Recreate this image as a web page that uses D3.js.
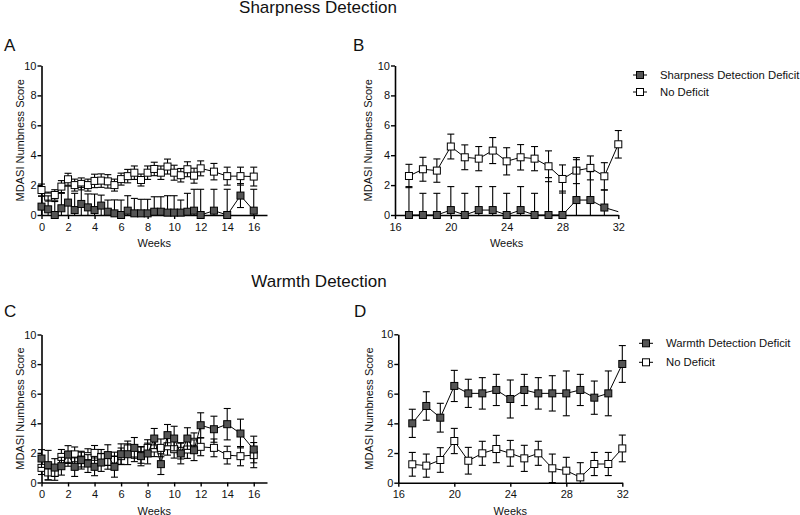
<!DOCTYPE html>
<html>
<head>
<meta charset="utf-8">
<script src="https://cdn.jsdelivr.net/npm/d3@7"></script>
<style>
  html, body { margin: 0; padding: 0; background: #fff; }
  svg { display: block; }
  text { font-family: "Liberation Sans", Arial, sans-serif; fill: #111; }
</style>
</head>
<body>
<svg id="chart" width="800" height="515"></svg>
<script>
// ---------------- DATA ----------------
const weeksEarly = [0,0.5,1,1.5,2,2.5,3,3.5,4,4.5,5,5.5,6,6.5,7,7.5,8,8.5,9,9.5,10,10.5,11,11.5,12,13,14,15,16];
const weeksLate  = [17,18,19,20,21,22,23,24,25,26,27,28,29,30,31,32];
const ticksEarly = [0,2,4,6,8,10,12,14,16];
const ticksLate  = [16,20,24,28,32];
const ticksY     = [0,2,4,6,8,10];

// Panel A: Sharpness Detection, weeks 0-16
const sharpDefA    = [0.56,0.38,0,0.45,0.83,0.33,0.74,0.51,0.33,0.63,0.22,0.11,0,0.29,0.11,0.11,0.11,0.22,0.22,0.16,0.16,0.16,0.22,0.29,0,0.29,0,1.3,0.29];
const sharpDefAErr = [0.7,0.9,0.9,1.0,1.1,1.12,1.2,0.9,1.07,0.7,0.78,0.9,1.0,1.0,1.0,0.94,0.94,1.0,1.0,1.13,1.13,0.84,1.23,1.43,1.72,1.43,1.72,0.8,1.43];
const sharpNoA     = [1.67,1.23,1.34,1.9,2.39,2.0,2.08,2.0,2.28,2.3,2.25,2.0,2.4,2.6,2.83,2.34,2.83,3.08,2.83,3.24,2.83,2.66,3.06,2.63,3.12,2.9,2.6,2.6,2.57];
const sharpNoAErr  = [0.4,0.3,0.35,0.4,0.4,0.4,0.4,0.4,0.45,0.45,0.45,0.4,0.4,0.45,0.45,0.4,0.45,0.45,0.45,0.5,0.5,0.45,0.5,0.5,0.5,0.55,0.6,0.6,0.63];

// Panel B: Sharpness Detection, weeks 17-32
const sharpDefB    = [0,0,0,0.33,0,0.33,0.33,0,0.33,0,0,0,1.0,1.0,0.5,0.22];
const sharpDefBErr = [1.9,1.45,1.45,1.57,1.45,1.57,1.57,1.45,1.57,1.45,2.5,1.6,2.7,1.9,1.17,null];
const sharpDefBNoMarker = [32];
const sharpNoB     = [2.61,3.06,2.97,4.58,3.86,3.77,4.31,3.59,3.86,3.77,3.26,2.41,2.97,3.15,2.59,4.73];
const sharpNoBErr  = [0.78,0.8,0.78,0.83,0.83,0.81,0.87,0.91,0.85,0.81,1.03,0.94,0.87,0.8,0.91,0.92];

// Panel C: Warmth Detection, weeks 0-16
const warmDefC     = [1.62,1.17,1.01,1.1,1.89,1.06,1.51,1.28,1.06,1.35,1.85,1.06,1.91,1.91,2.34,1.78,1.96,2.97,1.24,3.2,2.97,1.96,2.97,2.18,3.87,3.6,3.94,3.31,2.23];
const warmDefCErr  = [0.6,1.0,0.6,0.6,0.6,0.65,0.6,0.6,0.6,0.6,0.7,0.7,0.7,0.7,0.7,0.65,0.7,0.68,0.7,0.72,0.83,0.7,0.73,0.7,0.84,0.88,1.06,0.97,0.9];
const warmNoC      = [0.99,0.68,0.65,1.73,1.6,1.9,1.55,1.78,2.0,1.73,1.4,1.55,1.78,2.3,1.96,1.85,2.34,2.3,2.34,2.45,2.25,2.14,2.23,2.75,2.41,2.34,1.85,1.78,1.85];
const warmNoCErr   = [0.45,0.5,0.5,0.5,0.5,0.5,0.5,0.5,0.5,0.5,0.5,0.5,0.55,0.5,0.55,0.55,0.55,0.55,0.6,0.6,0.6,0.55,0.6,0.6,0.6,0.6,0.6,0.65,0.85];

// Panel D: Warmth Detection, weeks 17-32
const warmDefD     = [4.0,5.17,4.38,6.52,6.02,6.02,6.25,5.64,6.25,6.02,6.02,6.02,6.25,5.73,6.02,8.0];
const warmDefDErr  = [0.95,0.96,0.97,1.05,0.95,1.06,1.05,1.28,1.05,1.06,1.19,1.51,1.05,1.12,1.51,1.24];
const warmNoD      = [1.24,1.15,1.53,2.81,1.48,1.98,2.27,1.98,1.64,1.98,0.97,0.81,0.36,1.26,1.26,2.31];
const warmNoDErr   = [0.8,0.78,0.83,0.85,0.9,0.81,0.92,0.87,0.88,0.81,0.96,0.9,0.99,0.78,0.78,0.9];

const yLabel = "MDASI Numbness Score";
const xLabel = "Weeks";
const noDeficitLabel = "No Deficit";

// ---------------- DRAWING ----------------
const svg = d3.select("#chart");
const FILL = "#555555";
const MS = 7; // marker size

function drawPanel(cfg) {
  const x = d3.scaleLinear().domain(cfg.xDomain).range(cfg.xRange);
  const y = d3.scaleLinear().domain([0, 10]).range(cfg.yRange);
  const g = svg.append("g");

  // axes
  const xa = g.append("g").attr("transform", `translate(0,${cfg.yRange[0]})`)
    .call(d3.axisBottom(x).tickValues(cfg.xTicks).tickSize(4).tickSizeOuter(0).tickPadding(4));
  const ya = g.append("g").attr("transform", `translate(${cfg.xRange[0]},0)`)
    .call(d3.axisLeft(y).tickValues(ticksY).tickSize(4).tickSizeOuter(0).tickPadding(1));
  [xa, ya].forEach(a => {
    a.select(".domain").attr("stroke", "#000").attr("stroke-width", 1.6);
    a.selectAll(".tick line").attr("stroke", "#000").attr("stroke-width", 1.4);
    a.selectAll(".tick text").attr("font-size", 11).attr("fill", "#111")
      .style("font-family", '"Liberation Sans", Arial, sans-serif');
  });

  // axis titles
  g.append("text").attr("x", (cfg.xRange[0] + cfg.xRange[1]) / 2).attr("y", cfg.yRange[0] + 32)
    .attr("text-anchor", "middle").attr("font-size", 11).text(xLabel);
  g.append("text")
    .attr("transform", `translate(${cfg.yLabelX},${(cfg.yRange[0] + cfg.yRange[1]) / 2}) rotate(-90)`)
    .attr("text-anchor", "middle").attr("dy", "0.35em").attr("font-size", 11).text(yLabel);

  // panel letter
  g.append("text").attr("x", cfg.letterX).attr("y", cfg.letterY).attr("font-size", 17).text(cfg.letter);

  const y0 = y(0), y10 = y(10);
  const clampY = v => Math.max(y10, Math.min(y0, v));

  cfg.series.forEach(s => {
    const pts = s.weeks.map((w, i) => ({ w, v: s.values[i], e: s.errors[i] }));
    // error bars
    const eb = g.append("g").attr("stroke", "#000").attr("stroke-width", 1.1);
    pts.forEach(p => {
      if (p.e == null) return;
      const cx = x(p.w);
      const top = y(p.v + p.e), bot = y(p.v - p.e);
      eb.append("line").attr("x1", cx).attr("x2", cx).attr("y1", clampY(top)).attr("y2", clampY(bot));
      if (top >= y10 && top <= y0)
        eb.append("line").attr("x1", cx - 3.5).attr("x2", cx + 3.5).attr("y1", top).attr("y2", top);
      if (bot >= y10 && bot <= y0)
        eb.append("line").attr("x1", cx - 3.5).attr("x2", cx + 3.5).attr("y1", bot).attr("y2", bot);
    });
    // line
    g.append("path").datum(pts)
      .attr("fill", "none").attr("stroke", "#000").attr("stroke-width", 1)
      .attr("d", d3.line().x(p => x(p.w)).y(p => y(p.v)));
    // markers
    g.append("g").selectAll("rect")
      .data(pts.filter(p => !(s.noMarker || []).includes(p.w)))
      .join("rect")
      .attr("x", p => x(p.w) - MS / 2).attr("y", p => y(p.v) - MS / 2)
      .attr("width", MS).attr("height", MS)
      .attr("fill", s.filled ? FILL : "#fff").attr("stroke", "#000").attr("stroke-width", 1);
  });

  // legend
  if (cfg.legend) {
    cfg.legend.forEach((item, i) => {
      const ly = cfg.legendY[i];
      g.append("line").attr("x1", cfg.legendX - 7).attr("x2", cfg.legendX + 7)
        .attr("y1", ly).attr("y2", ly).attr("stroke", "#000").attr("stroke-width", 1);
      g.append("rect").attr("x", cfg.legendX - MS / 2).attr("y", ly - MS / 2)
        .attr("width", MS).attr("height", MS)
        .attr("fill", item.filled ? FILL : "#fff").attr("stroke", "#000");
      g.append("text").attr("x", cfg.legendX + 20).attr("y", ly).attr("dy", "0.36em")
        .attr("font-size", 11.3).text(item.label);
    });
  }
}

// titles
svg.append("text").attr("x", 318).attr("y", 13).attr("text-anchor", "middle")
  .attr("font-size", 17).text("Sharpness Detection");
svg.append("text").attr("x", 319).attr("y", 287).attr("text-anchor", "middle")
  .attr("font-size", 17).text("Warmth Detection");

drawPanel({
  letter: "A", letterX: 4, letterY: 51,
  xDomain: [0, 17], xRange: [41.5, 267], xTicks: ticksEarly,
  yRange: [215, 65.5], yLabelX: 20,
  series: [
    { weeks: weeksEarly, values: sharpNoA, errors: sharpNoAErr, filled: false },
    { weeks: weeksEarly, values: sharpDefA, errors: sharpDefAErr, filled: true }
  ]
});
drawPanel({
  letter: "B", letterX: 353, letterY: 51,
  xDomain: [16, 32], xRange: [395, 618.3], xTicks: ticksLate,
  yRange: [215, 65.5], yLabelX: 368,
  series: [
    { weeks: weeksLate, values: sharpNoB, errors: sharpNoBErr, filled: false },
    { weeks: weeksLate, values: sharpDefB, errors: sharpDefBErr, filled: true, noMarker: sharpDefBNoMarker }
  ],
  legend: [
    { label: "Sharpness Detection Deficit", filled: true },
    { label: noDeficitLabel, filled: false }
  ],
  legendX: 640, legendY: [75, 92]
});
drawPanel({
  letter: "C", letterX: 4, letterY: 317,
  xDomain: [0, 17], xRange: [41.5, 267], xTicks: ticksEarly,
  yRange: [482.5, 334.5], yLabelX: 20,
  series: [
    { weeks: weeksEarly, values: warmNoC, errors: warmNoCErr, filled: false },
    { weeks: weeksEarly, values: warmDefC, errors: warmDefCErr, filled: true }
  ]
});
drawPanel({
  letter: "D", letterX: 354, letterY: 317,
  xDomain: [16, 32], xRange: [398.3, 622.3], xTicks: ticksLate,
  yRange: [482.7, 334.3], yLabelX: 369,
  series: [
    { weeks: weeksLate, values: warmNoD, errors: warmNoDErr, filled: false },
    { weeks: weeksLate, values: warmDefD, errors: warmDefDErr, filled: true }
  ],
  legend: [
    { label: "Warmth Detection Deficit", filled: true },
    { label: noDeficitLabel, filled: false }
  ],
  legendX: 646, legendY: [343.3, 362.3]
});
</script>
</body>
</html>
